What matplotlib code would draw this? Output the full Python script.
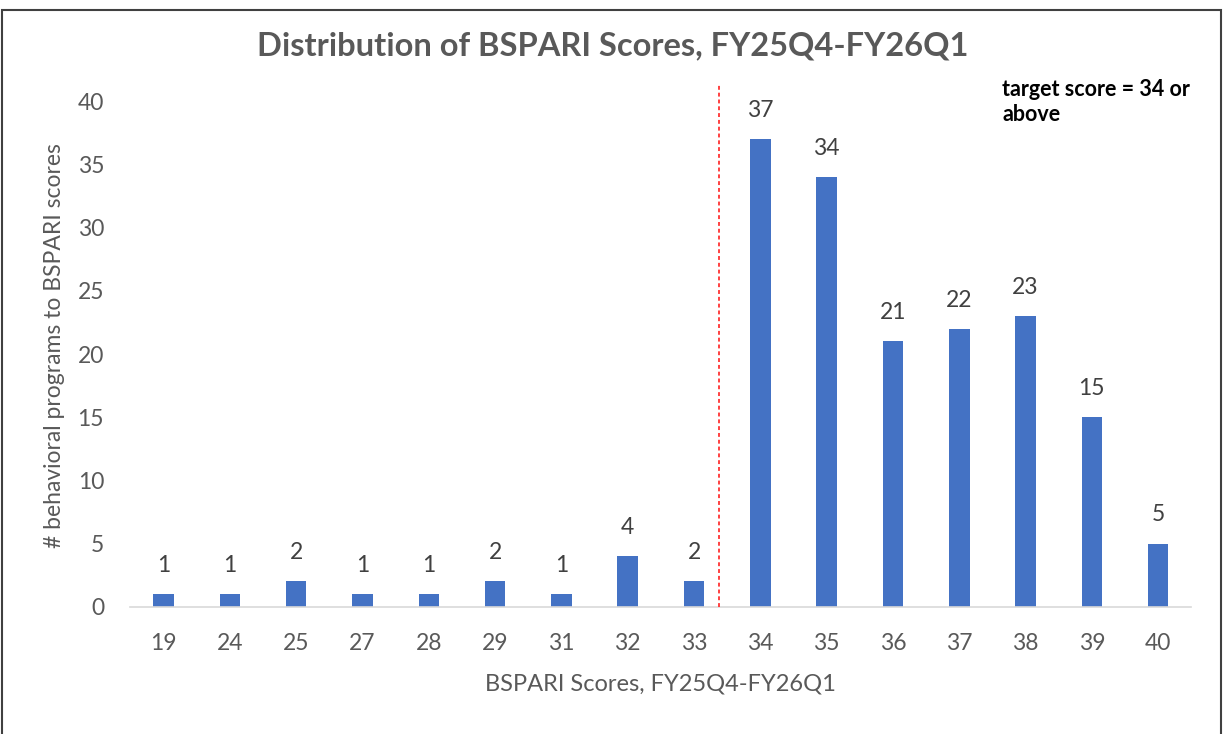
import matplotlib.pyplot as plt
from matplotlib.patches import Rectangle

plt.rcParams['font.family'] = ['Lato', 'DejaVu Sans']

scores = ['19', '24', '25', '27', '28', '29', '31', '32', '33',
          '34', '35', '36', '37', '38', '39', '40']
counts = [1, 1, 2, 1, 1, 2, 1, 4, 2, 37, 34, 21, 22, 23, 15, 5]
target_label = "target score = 34 or\nabove"

bar_color = '#4472C4'
text_gray = '#595959'

fig = plt.figure(figsize=(12.25, 7.34), dpi=100)
ax = fig.add_axes([0.1065, 0.1735, 0.866, 0.7105])

x = list(range(len(scores)))
bars = ax.bar(x, counts, width=0.31, color=bar_color, zorder=2)
for xi, c in zip(x, counts):
    ax.text(xi, c + 1.45, str(c), ha='center', va='bottom', fontsize=16.5, color='#404040')

# target threshold line, drawn just left of the 34 bar
cut = scores.index('34') - 0.62
ax.plot([cut, cut], [0, 41.3], color='#FF4040', linestyle=(0, (2, 1.5)), linewidth=1.4, zorder=3)

ax.set_xlim(-0.5, len(scores) - 0.5)
ax.set_ylim(0, 41.3)
ax.set_yticks(range(0, 41, 5))
ax.set_xticks(x)
ax.set_xticklabels(scores)
ax.tick_params(axis='both', length=0, labelsize=16.5, labelcolor=text_gray)
ax.tick_params(axis='x', pad=19)
ax.tick_params(axis='y', pad=19)

for s in ['top', 'right', 'left']:
    ax.spines[s].set_visible(False)
ax.spines['bottom'].set_color('#D9D9D9')
ax.spines['bottom'].set_linewidth(1.2)

ax.set_xlabel('BSPARI Scores, FY25Q4-FY26Q1', fontsize=17, color=text_gray, labelpad=14)
ax.set_ylabel('# behavioral programs to BSPARI scores', fontsize=16.5, color=text_gray, labelpad=9)

fig.text(0.5, 0.938, 'Distribution of BSPARI Scores, FY25Q4-FY26Q1', ha='center', va='center',
         fontsize=23.5, fontweight='bold', color=text_gray)
fig.text(0.818, 0.893, target_label, ha='left', va='top', fontsize=15.5, fontweight='bold',
         color='black', linespacing=1.25)

fig.patches.append(Rectangle((0.002, -0.01), 0.995, 1.004 - 0.01 + 0.002, transform=fig.transFigure,
                             fill=False, edgecolor='#404040', linewidth=1.5))

fig.savefig('out.png', dpi=100)
